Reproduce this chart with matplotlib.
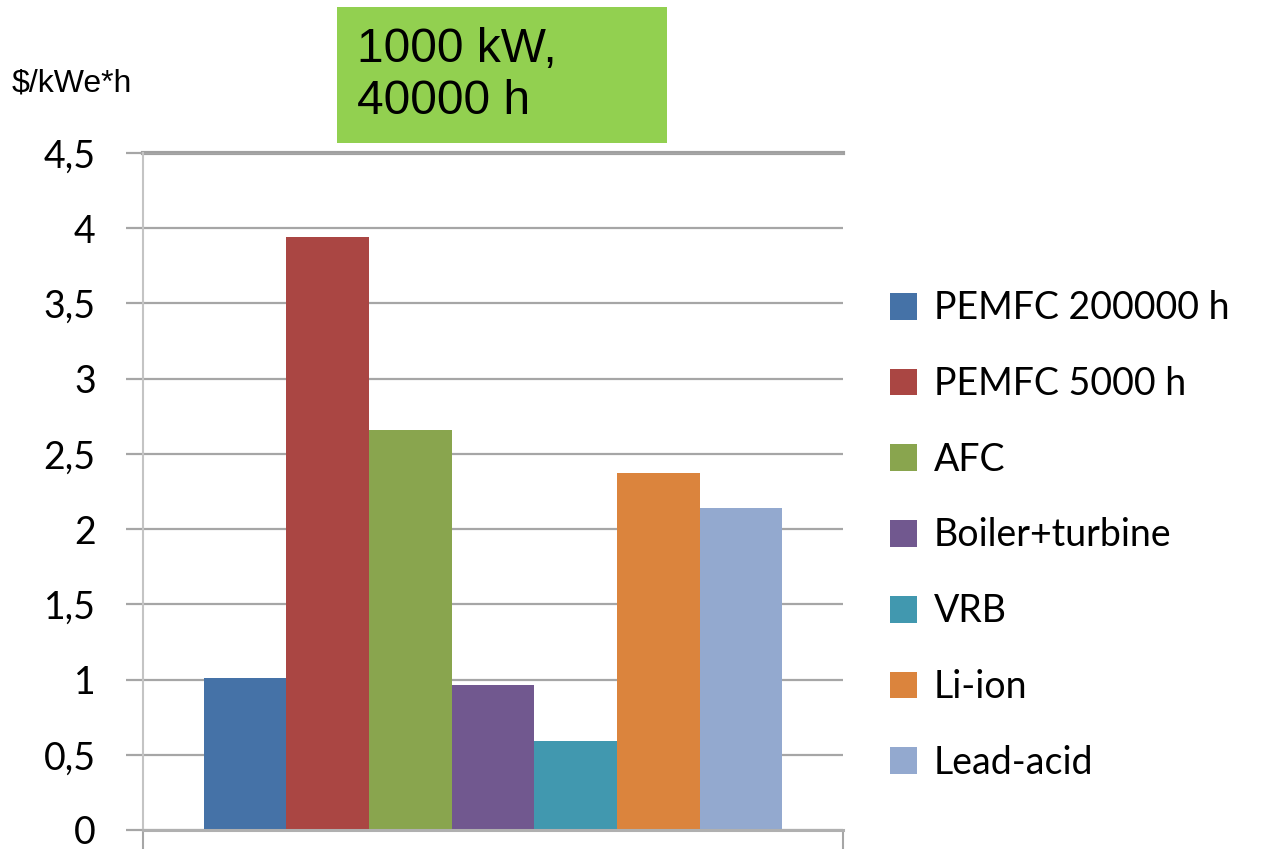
#! /usr/bin/env python3

# Cost per kWe*h for a 1000 kW system running 40000 h
import numpy as np
import matplotlib
matplotlib.use('Agg')
import matplotlib.pyplot as plt
from matplotlib.patches import Rectangle

# Data
technologies = ['PEMFC 200000 h', 'PEMFC 5000 h', 'AFC', 'Boiler+turbine',
                'VRB', 'Li-ion', 'Lead-acid']
costs = [1.01, 3.94, 2.66, 0.965, 0.59, 2.37, 2.14]
colors = ['#4572a7', '#aa4643', '#89a54e', '#71588f', '#4198af', '#db843d', '#93a9cf']
y_ticks = [0, 0.5, 1, 1.5, 2, 2.5, 3, 3.5, 4, 4.5]
y_tick_labels = ['0', '0,5', '1', '1,5', '2', '2,5', '3', '3,5', '4', '4,5']

fig = plt.figure(figsize=(12.62, 8.49), dpi=100)
ax = fig.add_axes([0.1133, 0.0224, 0.5547, 0.7974])

# Clustered bars around a single category
group_width = 0.827
bar_width = group_width / len(costs)
offsets = -group_width / 2 + bar_width * (np.arange(len(costs)) + 0.5)
for off, val, col, name in zip(offsets, costs, colors, technologies):
    ax.bar(off, val, width=bar_width, color=col, label=name, zorder=3)

ax.set_xlim(-0.5, 0.5)
ax.set_ylim(0, 4.5)
ax.set_yticks(y_ticks)
ax.set_yticklabels(y_tick_labels, fontsize=27, family='Lato')

# category boundary ticks on the x axis, pointing down
ax.set_xticks([-0.5, 0.5])
ax.set_xticklabels([])
ax.tick_params(axis='x', direction='out', length=14, width=1.5, color='#a6a6a6')

# Horizontal gridlines, darker at top like the original
ax.yaxis.grid(True, color='#a6a6a6', linewidth=1.6, zorder=0)
ax.tick_params(axis='y', length=12, width=1.6, color='#a6a6a6', pad=22)
for s in ['top', 'right']:
    ax.spines[s].set_visible(False)
ax.spines['left'].set_color('#c4c4c4')
ax.spines['left'].set_linewidth(1.5)
ax.spines['left'].set_zorder(4)
ax.spines['bottom'].set_color('#b0b0b0')
ax.spines['bottom'].set_linewidth(2.2)
ax.spines['bottom'].set_zorder(4)
ax.axhline(4.5, color='#a0a0a0', linewidth=3, zorder=1, clip_on=False)

# Legend on the right
ax.legend(loc='center left', bbox_to_anchor=(1.067, 0.435), frameon=False,
          prop={'family': 'Lato', 'size': 27}, handlelength=0.72,
          handleheight=0.72, handletextpad=0.45, labelspacing=1.06,
          borderaxespad=0, borderpad=0)

# Unit label and green title box
fig.text(12 / 1262, 1 - 84 / 849, '$/kWe*h', fontsize=23,
         family='Liberation Sans', va='center', ha='left')
fig.patches.append(Rectangle((337 / 1262, 1 - 143 / 849), 330 / 1262, 136 / 849,
                             transform=fig.transFigure, facecolor='#92d050',
                             edgecolor='none'))
fig.text(357 / 1262, 1 - 76 / 849, '1000 kW,\n40000 h', fontsize=34.5,
         family='Liberation Sans', va='center', ha='left', linespacing=1.2)

fig.savefig('out.png', dpi=100)
